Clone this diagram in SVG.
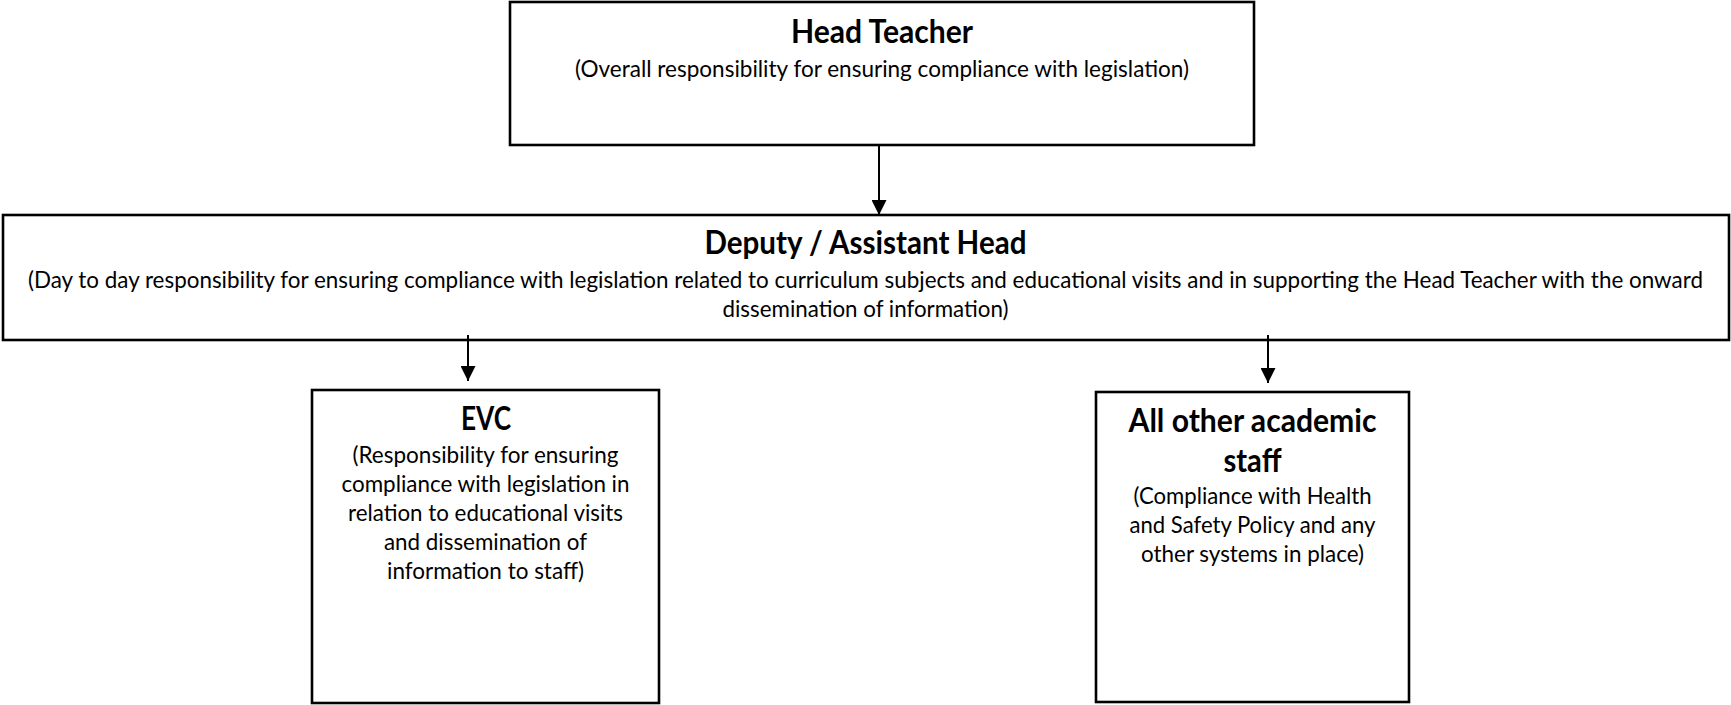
<svg xmlns="http://www.w3.org/2000/svg" width="1731" height="705" viewBox="0 0 1731 705">
<style>
.box{fill:#fff;stroke:#000;stroke-width:2.6}
.t{font-family:Lato,"Open Sans","Liberation Sans",sans-serif;font-weight:700;font-size:32px;fill:#000;text-anchor:middle}
.b{font-family:Lato,"Open Sans","Liberation Sans",sans-serif;font-weight:400;font-size:24px;fill:#000;text-anchor:middle}
.c{stroke:#000;stroke-width:2;fill:none}
</style>
<defs>
<marker id="ah" markerWidth="15" markerHeight="15" refX="15" refY="7.5" orient="auto" markerUnits="userSpaceOnUse">
<path d="M0,0 L15,7.5 L0,15 Z" fill="#000"/>
</marker>
</defs>
<rect width="1731" height="705" fill="#fff"/>
<g id="head">
<rect class="box" x="510" y="2" width="744" height="143"/>
<text class="t" x="882" y="43" textLength="182" lengthAdjust="spacingAndGlyphs">Head Teacher</text>
<text class="b" x="882" y="77" textLength="614" lengthAdjust="spacingAndGlyphs">(Overall responsibility for ensuring compliance with legislation)</text>
</g>
<g id="deputy">
<rect class="box" x="3" y="215" width="1726" height="125"/>
<text class="t" x="865.5" y="254" textLength="322" lengthAdjust="spacingAndGlyphs">Deputy / Assistant Head</text>
<text class="b" x="865.5" y="288" textLength="1675" lengthAdjust="spacingAndGlyphs">(Day to day responsibility for ensuring compliance with legislation related to curriculum subjects and educational visits and in supporting the Head Teacher with the onward</text>
<text class="b" x="865.5" y="317" textLength="286" lengthAdjust="spacingAndGlyphs">dissemination of information)</text>
</g>
<g id="evc">
<rect class="box" x="312" y="390" width="347" height="313"/>
<text class="t" x="486" y="430" textLength="50" lengthAdjust="spacingAndGlyphs">EVC</text>
<text class="b" x="485.5" y="463" textLength="266" lengthAdjust="spacingAndGlyphs">(Responsibility for ensuring</text>
<text class="b" x="485.5" y="492" textLength="288" lengthAdjust="spacingAndGlyphs">compliance with legislation in</text>
<text class="b" x="485.5" y="521" textLength="275" lengthAdjust="spacingAndGlyphs">relation to educational visits</text>
<text class="b" x="485.5" y="550" textLength="203" lengthAdjust="spacingAndGlyphs">and dissemination of</text>
<text class="b" x="485.5" y="579" textLength="197" lengthAdjust="spacingAndGlyphs">information to staff)</text>
</g>
<g id="staff">
<rect class="box" x="1096" y="392" width="313" height="310"/>
<text class="t" x="1252.5" y="432" textLength="248" lengthAdjust="spacingAndGlyphs">All other academic</text>
<text class="t" x="1252.5" y="472" textLength="58" lengthAdjust="spacingAndGlyphs">staff</text>
<text class="b" x="1252.5" y="504" textLength="238" lengthAdjust="spacingAndGlyphs">(Compliance with Health</text>
<text class="b" x="1252.5" y="533" textLength="246" lengthAdjust="spacingAndGlyphs">and Safety Policy and any</text>
<text class="b" x="1252.5" y="562" textLength="223" lengthAdjust="spacingAndGlyphs">other systems in place)</text>
</g>
<g id="connectors">
<line class="c" x1="879" y1="145" x2="879" y2="215" marker-end="url(#ah)"/>
<line class="c" x1="468" y1="335" x2="468" y2="381" marker-end="url(#ah)"/>
<line class="c" x1="1268" y1="335" x2="1268" y2="383" marker-end="url(#ah)"/>
</g>
</svg>
